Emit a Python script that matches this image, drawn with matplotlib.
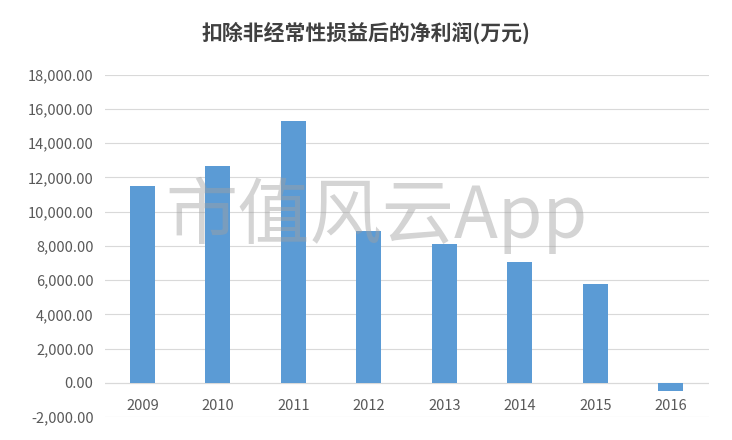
import matplotlib.pyplot as plt
import numpy as np

plt.rcParams['font.family'] = ['Noto Sans CJK SC', 'DejaVu Sans']

years = ['2009', '2010', '2011', '2012', '2013', '2014', '2015', '2016']
profit = [11500, 12700, 15300, 8900, 8100, 7050, 5800, -450]
yticks = np.arange(-2000, 18001, 2000)

fig = plt.figure(figsize=(7.32, 4.4), dpi=100)
ax = fig.add_axes([0.143, 0.052, 0.825, 0.778])
x = np.arange(len(years))
ax.bar(x, profit, width=0.33, color='#5b9bd5', zorder=3)
ax.set_xlim(-0.5, len(years) - 0.5)
ax.set_ylim(-2000, 18000)
ax.set_yticks(yticks)
ax.set_yticklabels([f'{v:,.2f}' for v in yticks], fontsize=10.5, color='#595959')
ax.set_xticks([])
ax.grid(axis='y', color='#d9d9d9', lw=0.8, zorder=0)
ax.axhline(0, color='#d9d9d9', lw=0.8, zorder=2)
for s in ax.spines.values():
    s.set_visible(False)
ax.tick_params(axis='y', length=0, pad=8)
for i, y in enumerate(years):
    ax.text(i, -1350, y, ha='center', va='center', fontsize=10.5, color='#595959')

fig.text(0.5, 0.925, '扣除非经常性损益后的净利润(万元)', ha='center', va='center',
         fontsize=15, fontweight='bold', color='#404040')
fig.text(0.515, 0.51, '市值风云App', ha='center', va='center', fontsize=52,
         color='#a0a0a0', alpha=0.45, zorder=5)

fig.savefig('out.png', dpi=100)
